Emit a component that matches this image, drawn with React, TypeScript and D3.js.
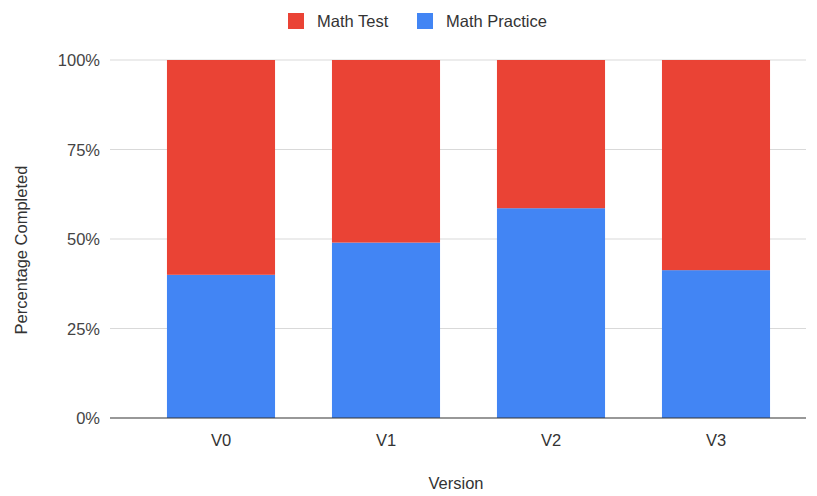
import React from "react";
import * as d3 from "d3";

const versions = ["V0", "V1", "V2", "V3"];
const mathPractice = [40, 49, 58.6, 41.3];
const mathTest = mathPractice.map((v) => 100 - v);
const yTicks = [0, 25, 50, 75, 100];

const W = 817;
const H = 496;
const RED = "#EA4335";
const BLUE = "#4285F4";
const FONT = "'Liberation Sans', Arial, sans-serif";
const FS = 16.5;

export default function App() {
  const x = d3
    .scaleBand<string>()
    .domain(versions)
    .range([138.5, 798.5])
    .paddingInner(0.345)
    .paddingOuter(0.1725);
  const y = d3.scaleLinear().domain([0, 100]).range([418, 60]);

  const stacked = d3.stack<number>().keys(["practice", "test"]).value((i, key) =>
    key === "practice" ? mathPractice[i] : mathTest[i]
  )(versions.map((_, i) => i));

  const colors: Record<string, string> = { practice: BLUE, test: RED };

  return (
    <svg
      width={W}
      height={H}
      style={{ position: "absolute", left: 0, top: 0, background: "#fff" }}
      fontFamily={FONT}
    >
      {/* legend */}
      <rect x={288} y={13} width={16} height={16} fill={RED} />
      <text x={317} y={27} fontSize={FS} fill="#333">Math Test</text>
      <rect x={417} y={13} width={16} height={16} fill={BLUE} />
      <text x={446} y={27} fontSize={FS} fill="#333">Math Practice</text>

      {/* gridlines and y ticks */}
      {yTicks.map((t) => (
        <g key={t}>
          {t !== 0 && (
            <line x1={110} x2={806} y1={y(t)} y2={y(t)} stroke="#d9d9d9" strokeWidth={1} />
          )}
          <text x={100} y={y(t) + 6} fontSize={FS} textAnchor="end" fill="#444">
            {t}%
          </text>
        </g>
      ))}

      {/* stacked bars */}
      {stacked.map((layer) => (
        <g key={layer.key} fill={colors[layer.key]}>
          {layer.map((d, i) => (
            <rect
              key={versions[i]}
              x={x(versions[i])}
              y={y(d[1])}
              width={x.bandwidth()}
              height={y(d[0]) - y(d[1])}
            />
          ))}
        </g>
      ))}

      {/* baseline */}
      <line x1={110} x2={806} y1={y(0)} y2={y(0)} stroke="#333" strokeWidth={1.2} />

      {/* x tick labels */}
      {versions.map((v) => (
        <text
          key={v}
          x={(x(v) as number) + x.bandwidth() / 2}
          y={446}
          fontSize={FS}
          textAnchor="middle"
          fill="#333"
        >
          {v}
        </text>
      ))}

      {/* axis titles */}
      <text x={456} y={489} fontSize={FS} textAnchor="middle" fill="#333">
        Version
      </text>
      <text
        transform={`translate(27, 250) rotate(-90)`}
        fontSize={FS}
        textAnchor="middle"
        fill="#333"
      >
        Percentage Completed
      </text>
    </svg>
  );
}
